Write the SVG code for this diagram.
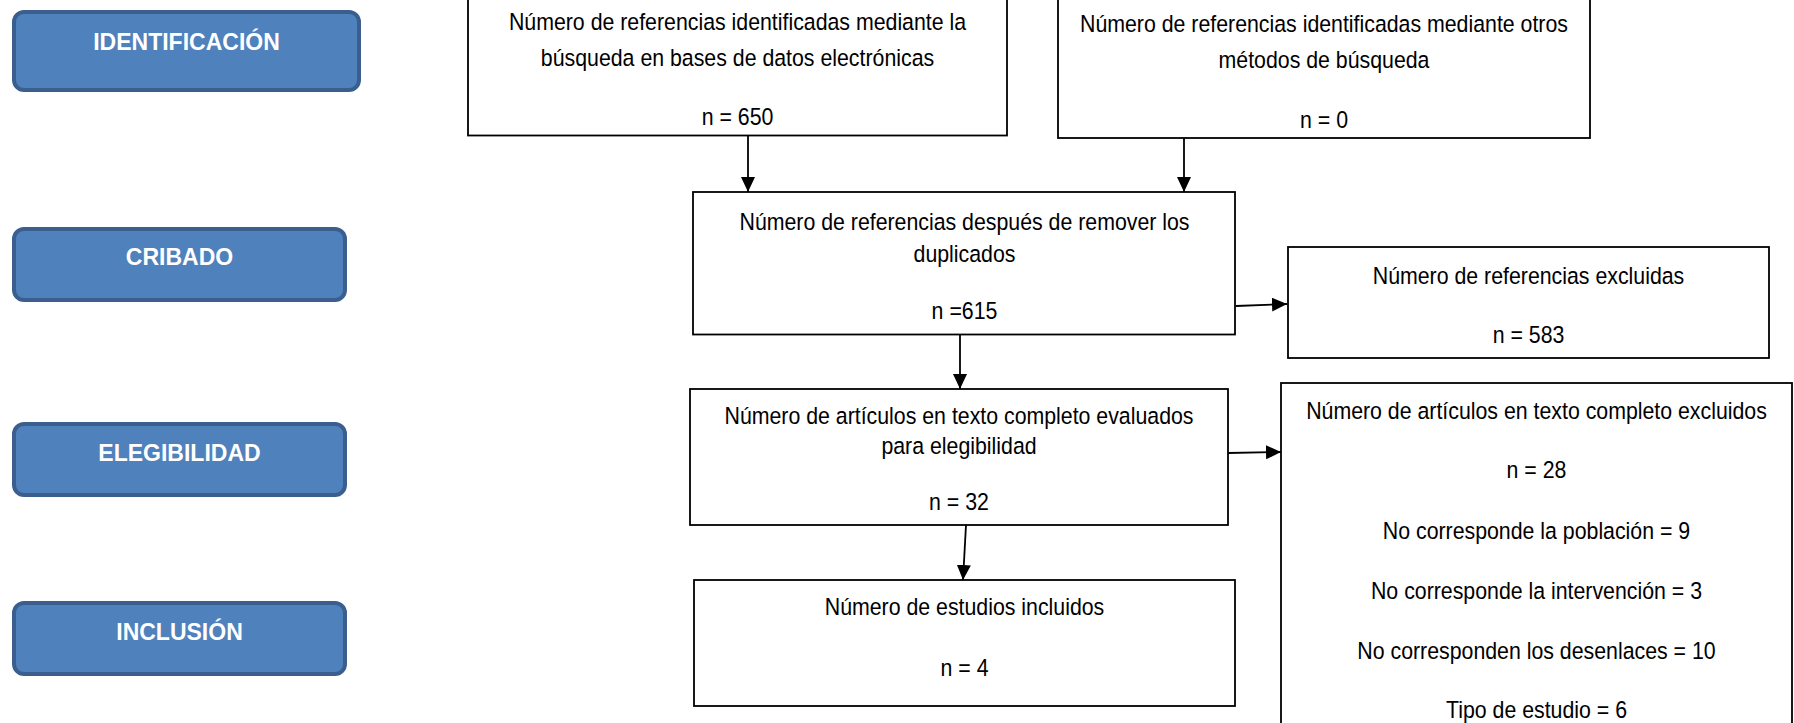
<svg xmlns="http://www.w3.org/2000/svg" width="1794" height="723" viewBox="0 0 1794 723">
<style>
.stage rect{fill:#4F81BD;stroke:#3A5F8E;stroke-width:4}
.stage text{font-family:"Liberation Sans",Arial,sans-serif;font-weight:bold;font-size:23px;fill:#fff;text-anchor:middle}
.box rect{fill:#fff;stroke:#000;stroke-width:1.8}
.box text{font-family:"Liberation Sans",Arial,sans-serif;font-size:24.5px;fill:#000;text-anchor:middle}
.conn path{fill:none;stroke:#000;stroke-width:1.8}
</style>
<defs>
<marker id="ah" markerUnits="userSpaceOnUse" markerWidth="16" markerHeight="14" refX="15" refY="7" orient="auto">
<path d="M0,0 L15,7 L0,14 Z" fill="#000"/>
</marker>
</defs>
<rect width="1794" height="723" fill="#fff"/>
<g id="stage-identificacion" class="stage"><rect x="14" y="12" width="345" height="78" rx="10"/><text x="186.5" y="50">IDENTIFICACIÓN</text></g>
<g id="stage-cribado" class="stage"><rect x="14" y="229" width="331" height="71" rx="10"/><text x="179.5" y="265">CRIBADO</text></g>
<g id="stage-elegibilidad" class="stage"><rect x="14" y="424" width="331" height="71" rx="10"/><text x="179.5" y="461">ELEGIBILIDAD</text></g>
<g id="stage-inclusion" class="stage"><rect x="14" y="603" width="331" height="71" rx="10"/><text x="179.5" y="640">INCLUSIÓN</text></g>

<g id="box-bases" class="box"><rect x="468" y="-2" width="539" height="137.5"/>
<g transform="translate(737.5,0) scale(0.87,1)">
<text x="0" y="30">Número de referencias identificadas mediante la</text>
<text x="0" y="66">búsqueda en bases de datos electrónicas</text>
<text x="0" y="125">n = 650</text></g></g>
<g id="box-otros" class="box"><rect x="1058" y="-2" width="532" height="140"/>
<g transform="translate(1324,0) scale(0.87,1)">
<text x="0" y="32">Número de referencias identificadas mediante otros</text>
<text x="0" y="68.5">métodos de búsqueda</text>
<text x="0" y="128">n = 0</text></g></g>
<g id="box-duplicados" class="box"><rect x="693" y="192" width="542" height="142.5"/>
<g transform="translate(964.5,0) scale(0.87,1)">
<text x="0" y="230">Número de referencias después de remover los</text>
<text x="0" y="262">duplicados</text>
<text x="0" y="319">n =615</text></g></g>
<g id="box-excluidas" class="box"><rect x="1288" y="247" width="481" height="111"/>
<g transform="translate(1528.5,0) scale(0.87,1)">
<text x="0" y="284">Número de referencias excluidas</text>
<text x="0" y="343">n = 583</text></g></g>
<g id="box-evaluados" class="box"><rect x="690" y="389" width="538" height="136"/>
<g transform="translate(959,0) scale(0.87,1)">
<text x="0" y="424">Número de artículos en texto completo evaluados</text>
<text x="0" y="454">para elegibilidad</text>
<text x="0" y="510">n = 32</text></g></g>
<g id="box-excluidos-texto" class="box"><rect x="1281" y="383" width="511" height="360"/>
<g transform="translate(1536.5,0) scale(0.87,1)">
<text x="0" y="419">Número de artículos en texto completo excluidos</text>
<text x="0" y="478">n = 28</text>
<text x="0" y="539">No corresponde la población = 9</text>
<text x="0" y="599">No corresponde la intervención = 3</text>
<text x="0" y="659">No corresponden los desenlaces = 10</text>
<text x="0" y="718">Tipo de estudio = 6</text></g></g>
<g id="box-incluidos" class="box"><rect x="694" y="580" width="541" height="126"/>
<g transform="translate(964.5,0) scale(0.87,1)">
<text x="0" y="615">Número de estudios incluidos</text>
<text x="0" y="676">n = 4</text></g></g>

<g id="connectors" class="conn">
<path d="M748,136 L748,192" marker-end="url(#ah)"/>
<path d="M1184,138 L1184,192" marker-end="url(#ah)"/>
<path d="M1236,306 L1287,304" marker-end="url(#ah)"/>
<path d="M960,335 L960,389" marker-end="url(#ah)"/>
<path d="M1228,453 L1281,452" marker-end="url(#ah)"/>
<path d="M966,525 L963,580" marker-end="url(#ah)"/>
</g>
</svg>
